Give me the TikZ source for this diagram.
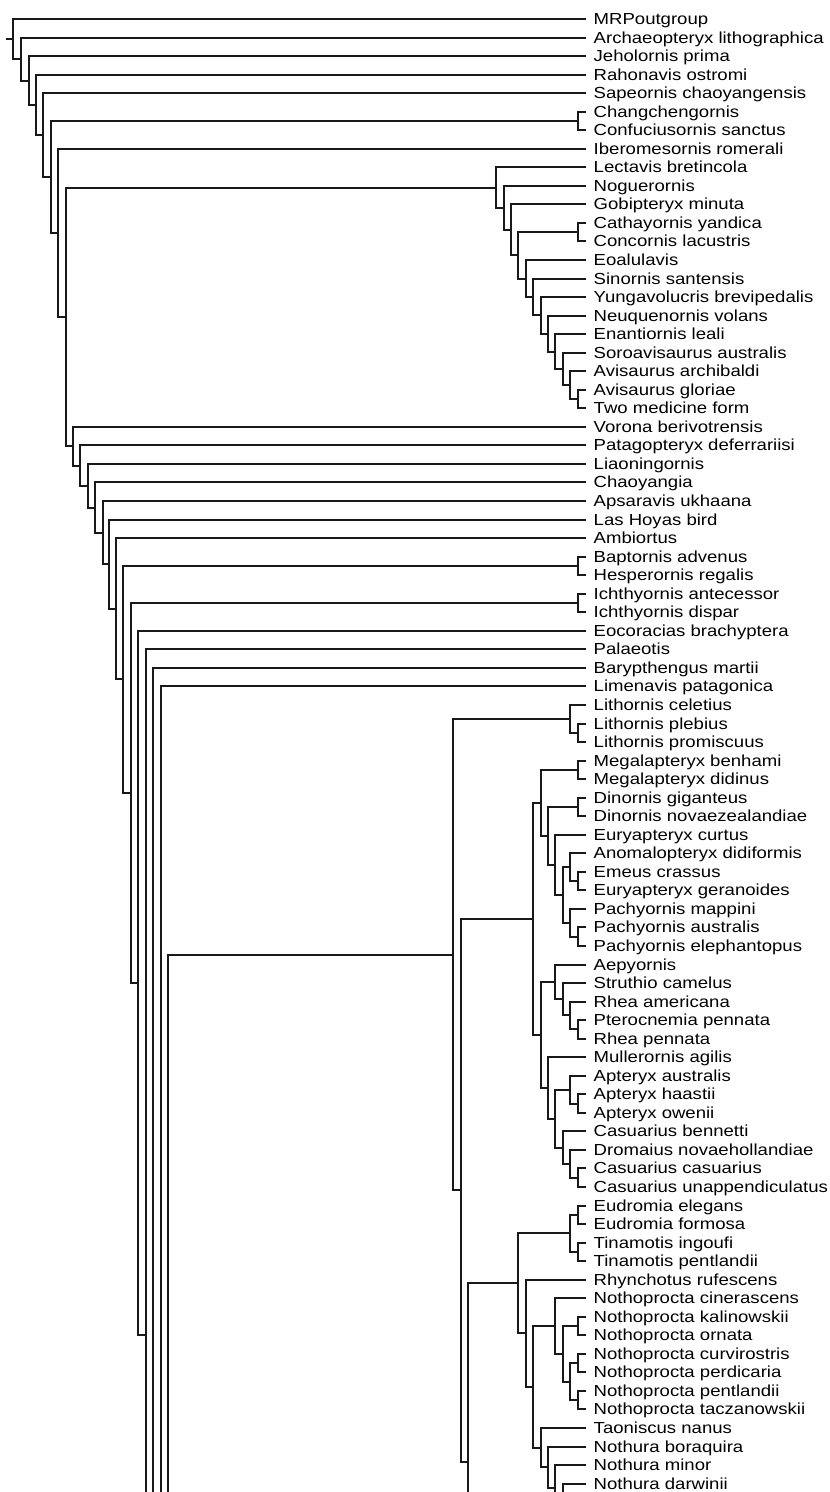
\documentclass[tikz,border=0pt]{standalone}
\usepackage{fontspec}
\newfontfamily\lblfont{Liberation Sans}[FakeStretch=1.16]
\tikzset{
  edge/.style={line width=2pt, line cap=rect, black!90},
  leaf/.style={anchor=west, inner xsep=8.5pt, inner ysep=0pt, text height=11.5pt, text depth=1.5pt,
    font=\lblfont\fontsize{16pt}{16pt}\selectfont}
}
\begin{document}
\begin{tikzpicture}[x=1pt,y=-1pt]
\useasboundingbox (0,0) rectangle (830,1492);
\clip (0,0) rectangle (830,1492);
% leaves
\foreach \t [count=\i] in {MRPoutgroup, Archaeopteryx lithographica, Jeholornis prima, Rahonavis ostromi,
  Sapeornis chaoyangensis, Changchengornis, Confuciusornis sanctus, Iberomesornis romerali,
  Lectavis bretincola, Noguerornis, Gobipteryx minuta, Cathayornis yandica, Concornis lacustris,
  Eoalulavis, Sinornis santensis, Yungavolucris brevipedalis, Neuquenornis volans, Enantiornis leali,
  Soroavisaurus australis, Avisaurus archibaldi, Avisaurus gloriae, Two medicine form,
  Vorona berivotrensis, Patagopteryx deferrariisi, Liaoningornis, Chaoyangia, Apsaravis ukhaana,
  Las Hoyas bird, Ambiortus, Baptornis advenus, Hesperornis regalis, Ichthyornis antecessor,
  Ichthyornis dispar, Eocoracias brachyptera, Palaeotis, Barypthengus martii, Limenavis patagonica,
  Lithornis celetius, Lithornis plebius, Lithornis promiscuus, Megalapteryx benhami,
  Megalapteryx didinus, Dinornis giganteus, Dinornis novaezealandiae, Euryapteryx curtus,
  Anomalopteryx didiformis, Emeus crassus, Euryapteryx geranoides, Pachyornis mappini,
  Pachyornis australis, Pachyornis elephantopus, Aepyornis, Struthio camelus, Rhea americana,
  Pterocnemia pennata, Rhea pennata, Mullerornis agilis, Apteryx australis, Apteryx haastii,
  Apteryx owenii, Casuarius bennetti, Dromaius novaehollandiae, Casuarius casuarius,
  Casuarius unappendiculatus, Eudromia elegans, Eudromia formosa, Tinamotis ingoufi,
  Tinamotis pentlandii, Rhynchotus rufescens, Nothoprocta cinerascens, Nothoprocta kalinowskii,
  Nothoprocta ornata, Nothoprocta curvirostris, Nothoprocta perdicaria, Nothoprocta pentlandii,
  Nothoprocta taczanowskii, Taoniscus nanus, Nothura boraquira, Nothura minor, Nothura darwinii}
  \node[leaf] (l\i) at (585, {round(19+18.54*(\i-1))}) {\t};
% backbone
\coordinate (r0) at (7,39);
\coordinate (B1) at (13,39);
\coordinate (B2) at (21,59);
\coordinate (B3) at (29,81);
\coordinate (B4) at (36,105);
\coordinate (B5) at (43,135);
\coordinate (B6) at (51,177);
\coordinate (B7) at (58,233);
\coordinate (B8) at (66,317);
\coordinate (B9) at (73,446);
\coordinate (B10) at (80,466);
\coordinate (B11) at (88,486);
\coordinate (B12) at (95,508);
\coordinate (B13) at (103,533);
\coordinate (B14) at (109,564);
\coordinate (B15) at (116,609);
\coordinate (B16) at (123,679);
\coordinate (B17) at (131,793);
\coordinate (B18) at (138,983);
\coordinate (B19) at (146,1335);
\coordinate (B20) at (153,2021);
\coordinate (B21) at (161,3373);
\coordinate (B22) at (168,6060);
% small clades
\coordinate (C1) at (578,121);
\coordinate (H) at (578,566);
\coordinate (I) at (578,603);
% Enantiornithes
\coordinate (E) at (496,188);
\coordinate (E2) at (504,208);
\coordinate (E3) at (511,230);
\coordinate (E4) at (518,255);
\coordinate (CC) at (578,232);
\coordinate (E5) at (526,279);
\coordinate (E6) at (533,297);
\coordinate (E7) at (541,315);
\coordinate (E8) at (548,334);
\coordinate (E9) at (555,352);
\coordinate (E10) at (563,369);
\coordinate (E11) at (570,385);
\coordinate (E12) at (578,399);
% Palaeognathae
\coordinate (P) at (453,955);
\coordinate (L) at (570,719);
\coordinate (LP) at (578,733);
\coordinate (P2) at (461,1190);
\coordinate (R) at (533,919);
\coordinate (Mo1) at (541,803);
\coordinate (MG) at (578,770);
\coordinate (Mo2) at (548,836);
\coordinate (DN) at (578,807);
\coordinate (Mo3) at (555,865);
\coordinate (Mo4) at (563,895);
\coordinate (AEE) at (570,867);
\coordinate (EE) at (578,881);
\coordinate (PA) at (570,923);
\coordinate (PAE) at (578,937);
\coordinate (Q) at (541,1035);
\coordinate (AP) at (555,982);
\coordinate (ST) at (563,999);
\coordinate (RH) at (570,1015);
\coordinate (RP) at (578,1029);
\coordinate (K) at (548,1088);
\coordinate (KC) at (555,1119);
\coordinate (AX) at (570,1090);
\coordinate (AXh) at (578,1104);
\coordinate (CS) at (563,1148);
\coordinate (CS2) at (570,1164);
\coordinate (CS3) at (578,1178);
\coordinate (T) at (468,1462);
\coordinate (Tb) at (475,1640);
\coordinate (T1) at (518,1283);
\coordinate (TA) at (570,1233);
\coordinate (EU) at (578,1215);
\coordinate (TI) at (578,1252);
\coordinate (TB) at (526,1333);
\coordinate (TC) at (533,1387);
\coordinate (NP) at (555,1326);
\coordinate (NP2) at (563,1354);
\coordinate (NP3) at (578,1326);
\coordinate (NP4) at (570,1382);
\coordinate (NP5) at (578,1363);
\coordinate (NP6) at (578,1400);
\coordinate (NT) at (541,1448);
\coordinate (NT2) at (548,1467);
\coordinate (NT3) at (555,1488);
\coordinate (NT4) at (563,1511);
\coordinate (NT5) at (570,1538);
% edges
\draw[edge] (r0) -- (B1);
\foreach \p/\c in {B1/l1, B1/B2, B2/l2, B2/B3, B3/l3, B3/B4, B4/l4, B4/B5, B5/l5, B5/B6,
  B6/C1, B6/B7, C1/l6, C1/l7, B7/l8, B7/B8, B8/E, B8/B9,
  E/l9, E/E2, E2/l10, E2/E3, E3/l11, E3/E4, E4/CC, E4/E5, CC/l12, CC/l13,
  E5/l14, E5/E6, E6/l15, E6/E7, E7/l16, E7/E8, E8/l17, E8/E9, E9/l18, E9/E10,
  E10/l19, E10/E11, E11/l20, E11/E12, E12/l21, E12/l22,
  B9/l23, B9/B10, B10/l24, B10/B11, B11/l25, B11/B12, B12/l26, B12/B13, B13/l27, B13/B14,
  B14/l28, B14/B15, B15/l29, B15/B16, B16/H, B16/B17, H/l30, H/l31, B17/I, B17/B18, I/l32, I/l33,
  B18/l34, B18/B19, B19/l35, B19/B20, B20/l36, B20/B21, B21/l37, B21/B22, B22/P,
  P/L, P/P2, L/l38, L/LP, LP/l39, LP/l40, P2/R, P2/T,
  R/Mo1, R/Q, Mo1/MG, Mo1/Mo2, MG/l41, MG/l42, Mo2/DN, Mo2/Mo3, DN/l43, DN/l44,
  Mo3/l45, Mo3/Mo4, Mo4/AEE, Mo4/PA, AEE/l46, AEE/EE, EE/l47, EE/l48, PA/l49, PA/PAE, PAE/l50, PAE/l51,
  Q/AP, Q/K, AP/l52, AP/ST, ST/l53, ST/RH, RH/l54, RH/RP, RP/l55, RP/l56,
  K/l57, K/KC, KC/AX, KC/CS, AX/l58, AX/AXh, AXh/l59, AXh/l60, CS/l61, CS/CS2, CS2/l62, CS2/CS3, CS3/l63, CS3/l64,
  T/T1, T/Tb, T1/TA, T1/TB, TA/EU, TA/TI, EU/l65, EU/l66, TI/l67, TI/l68,
  TB/l69, TB/TC, TC/NP, TC/NT, NP/l70, NP/NP2, NP2/NP3, NP2/NP4, NP3/l71, NP3/l72,
  NP4/NP5, NP4/NP6, NP5/l73, NP5/l74, NP6/l75, NP6/l76,
  NT/l77, NT/NT2, NT2/l78, NT2/NT3, NT3/l79, NT3/NT4, NT4/l80, NT4/NT5}
  \draw[edge] (\p) |- (\c);
\end{tikzpicture}
\end{document}
